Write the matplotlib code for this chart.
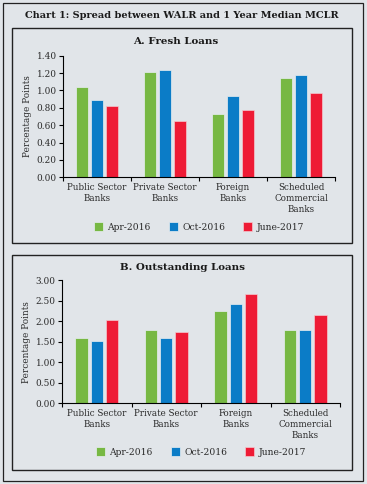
import numpy as np
import matplotlib
matplotlib.use("Agg")
import matplotlib.pyplot as plt
from matplotlib.patches import Rectangle

# data
categories = ["Public Sector\nBanks", "Private Sector\nBanks", "Foreign\nBanks",
              "Scheduled\nCommercial\nBanks"]
series_names = ["Apr-2016", "Oct-2016", "June-2017"]

fresh_apr16 = [1.04, 1.21, 0.73, 1.14]
fresh_oct16 = [0.89, 1.24, 0.94, 1.18]
fresh_jun17 = [0.82, 0.65, 0.77, 0.97]

out_apr16 = [1.60, 1.80, 2.24, 1.78]
out_oct16 = [1.53, 1.59, 2.43, 1.79]
out_jun17 = [2.04, 1.73, 2.67, 2.15]

fresh_ticks = [0.0, 0.2, 0.4, 0.6, 0.8, 1.0, 1.2, 1.4]
out_ticks = [0.0, 0.5, 1.0, 1.5, 2.0, 2.5, 3.0]

colors = ["#77b843", "#0b7cc7", "#ee1b35"]
bg = "#e1e5e9"
txt = "#2a2a2a"

W, H = 367, 484
plt.rcParams["font.family"] = ["DejaVu Serif"]

fig = plt.figure(figsize=(W / 100, H / 100), dpi=100)
fig.patch.set_facecolor(bg)


def px_rect(x0, y0, x1, y1, lw=1.0):
    # rectangle given in pixel coords from top-left
    fig.patches.append(Rectangle((x0 / W, 1 - y1 / H), (x1 - x0) / W, (y1 - y0) / H,
                                 transform=fig.transFigure, fill=False,
                                 edgecolor="#222222", linewidth=lw))


px_rect(2.7, 2.7, 362.7, 480.5, lw=0.9)
px_rect(12.3, 28.3, 351.7, 243, lw=1.0)
px_rect(12.3, 254.5, 351.7, 470, lw=1.0)

fig.text(182 / W, 1 - 15.7 / H, "Chart 1: Spread between WALR and 1 Year Median MCLR",
         ha="center", va="center", fontsize=7.0, fontweight="bold", color="#1a1a1a")
fig.text(176 / W, 1 - 41.7 / H, "A. Fresh Loans", ha="center", va="center",
         fontsize=7.4, fontweight="bold", color="#1a1a1a")
fig.text(182 / W, 1 - 268 / H, "B. Outstanding Loans", ha="center", va="center",
         fontsize=7.4, fontweight="bold", color="#1a1a1a")


def draw_panel(rect, vals, ticks, legend_y):
    ax = fig.add_axes(rect)
    ax.set_facecolor(bg)
    x = np.arange(len(categories))
    width = 0.176
    step = 0.22
    for i, (v, c) in enumerate(zip(vals, colors)):
        ax.bar(x + (i - 1) * step, v, width, color=c,
               edgecolor="#f3c9cf" if i == 2 else "#e8eef2",
               linewidth=0.5, label=series_names[i])
    ax.set_xlim(-0.5, len(categories) - 0.5)
    ax.set_ylim(ticks[0], ticks[-1])
    ax.set_yticks(ticks)
    ax.set_yticklabels([f"{t:.2f}" for t in ticks], fontsize=6.4, color=txt)
    ax.set_xticks(x)
    ax.set_xticklabels(categories, fontsize=6.3, color=txt, linespacing=1.3)
    ax.tick_params(axis="x", length=0, pad=4)
    ax.set_xticks(np.arange(len(categories) + 1) - 0.5, minor=True)
    ax.tick_params(axis="x", which="minor", length=3, width=0.8)
    ax.tick_params(axis="y", length=3, width=0.8, pad=1.5)
    for s in ["top", "right"]:
        ax.spines[s].set_visible(False)
    for s in ["left", "bottom"]:
        ax.spines[s].set_linewidth(0.8)
    ax.set_ylabel("Percentage Points", fontsize=6.4, color=txt, labelpad=3)
    ax.legend(loc="center", bbox_to_anchor=(0.5, legend_y), ncol=3, frameon=False,
              fontsize=6.6, handlelength=0.95, handleheight=1.15, handletextpad=0.5,
              columnspacing=2.0, labelcolor=txt)
    return ax


draw_panel([63 / W, 1 - 177.3 / H, 272 / W, 121.6 / H],
           [fresh_apr16, fresh_oct16, fresh_jun17], fresh_ticks, -0.41)
draw_panel([62 / W, 1 - 403.3 / H, 278 / W, 123 / H],
           [out_apr16, out_oct16, out_jun17], out_ticks, -0.395)

fig.savefig("out.png", dpi=100, facecolor=bg)
